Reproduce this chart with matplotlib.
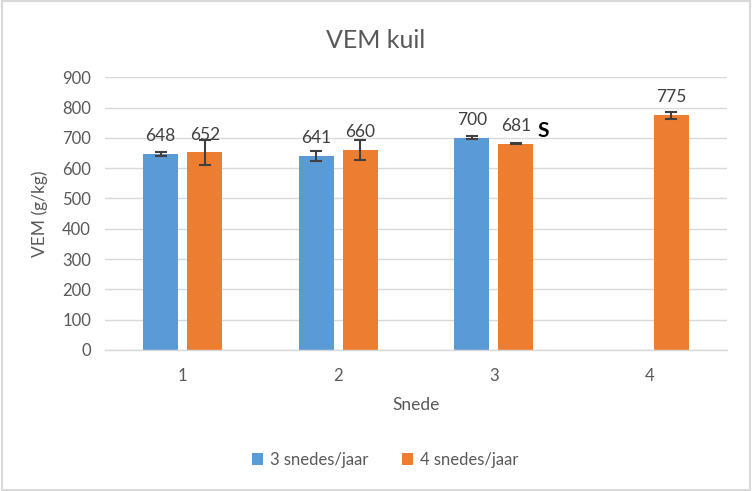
import numpy as np
import matplotlib
matplotlib.use('Agg')
import matplotlib.pyplot as plt
from matplotlib.patches import Rectangle

plt.rcParams['font.family'] = ['Lato', 'DejaVu Sans']

# Data
categories = ['1', '2', '3', '4']
series_names = ['3 snedes/jaar', '4 snedes/jaar']
vem_3 = [648, 641, 700, np.nan]
vem_4 = [652, 660, 681, 775]
err_3 = [7, 16, 5, 0]
err_4 = [40, 33, 2, 12]
yticks = [0, 100, 200, 300, 400, 500, 600, 700, 800, 900]

blue = '#5B9BD5'
orange = '#ED7D31'
txt = '#595959'

fig = plt.figure(figsize=(7.52, 4.91), dpi=100)
ax = fig.add_axes([0.1396, 0.2872, 0.8272, 0.5554])

x = np.arange(len(categories))
w = 0.225
off = 0.1415

b1 = ax.bar(x - off, vem_3, w, color=blue, label=series_names[0], zorder=2)
b2 = ax.bar(x + off, vem_4, w, color=orange, label=series_names[1], zorder=2)
ax.errorbar(x - off, vem_3, yerr=err_3, fmt='none', ecolor='#404040',
            elinewidth=1.5, capsize=4, capthick=1.5, zorder=3)
ax.errorbar(x + off, vem_4, yerr=err_4, fmt='none', ecolor='#404040',
            elinewidth=1.5, capsize=4, capthick=1.5, zorder=3)

for xs, vals in [(x - off, vem_3), (x + off, vem_4)]:
    for xi, v in zip(xs, vals):
        if np.isnan(v):
            continue
        ax.annotate(f'{v:.0f}', (xi, v), xytext=(0, 7), textcoords='offset points',
                    ha='center', va='bottom', fontsize=12.5, color='#404040')

# significance mark
ax.annotate('S', (2 + off, vem_4[2]), xytext=(20, 2), textcoords='offset points',
            ha='center', va='bottom', fontsize=15, fontweight='bold', color='black')

ax.set_xlim(-0.5, 3.5)
ax.set_ylim(0, 900)
ax.set_xticks(x)
ax.set_xticklabels(categories)
ax.set_yticks(yticks)
ax.grid(axis='y', color='#d9d9d9', linewidth=1, zorder=0)
ax.set_axisbelow(True)
for s in ['top', 'right', 'left']:
    ax.spines[s].set_visible(False)
ax.spines['bottom'].set_color('#d9d9d9')
ax.spines['bottom'].set_linewidth(1)
ax.tick_params(axis='both', length=0, labelsize=12, labelcolor=txt)
ax.tick_params(axis='x', pad=13)
ax.tick_params(axis='y', pad=10)

ax.set_xlabel('Snede', fontsize=12.5, color=txt, labelpad=9)
ax.set_ylabel('VEM (g/kg)', fontsize=12.5, color=txt, labelpad=10)
fig.text(0.5, 0.918, 'VEM kuil', ha='center', va='center', fontsize=18, color=txt)

leg = fig.legend(handles=[b1, b2], loc='center', bbox_to_anchor=(0.512, 0.063), ncol=2,
                 frameon=False, fontsize=12, handlelength=0.7, handleheight=0.7,
                 columnspacing=2.0, handletextpad=0.4)
for t in leg.get_texts():
    t.set_color(txt)

fig.patches.append(Rectangle((0.002, 0.002), 0.996, 0.996, transform=fig.transFigure,
                             fill=False, edgecolor='#d9d9d9', linewidth=1.5))

fig.savefig('out.png', dpi=100)
